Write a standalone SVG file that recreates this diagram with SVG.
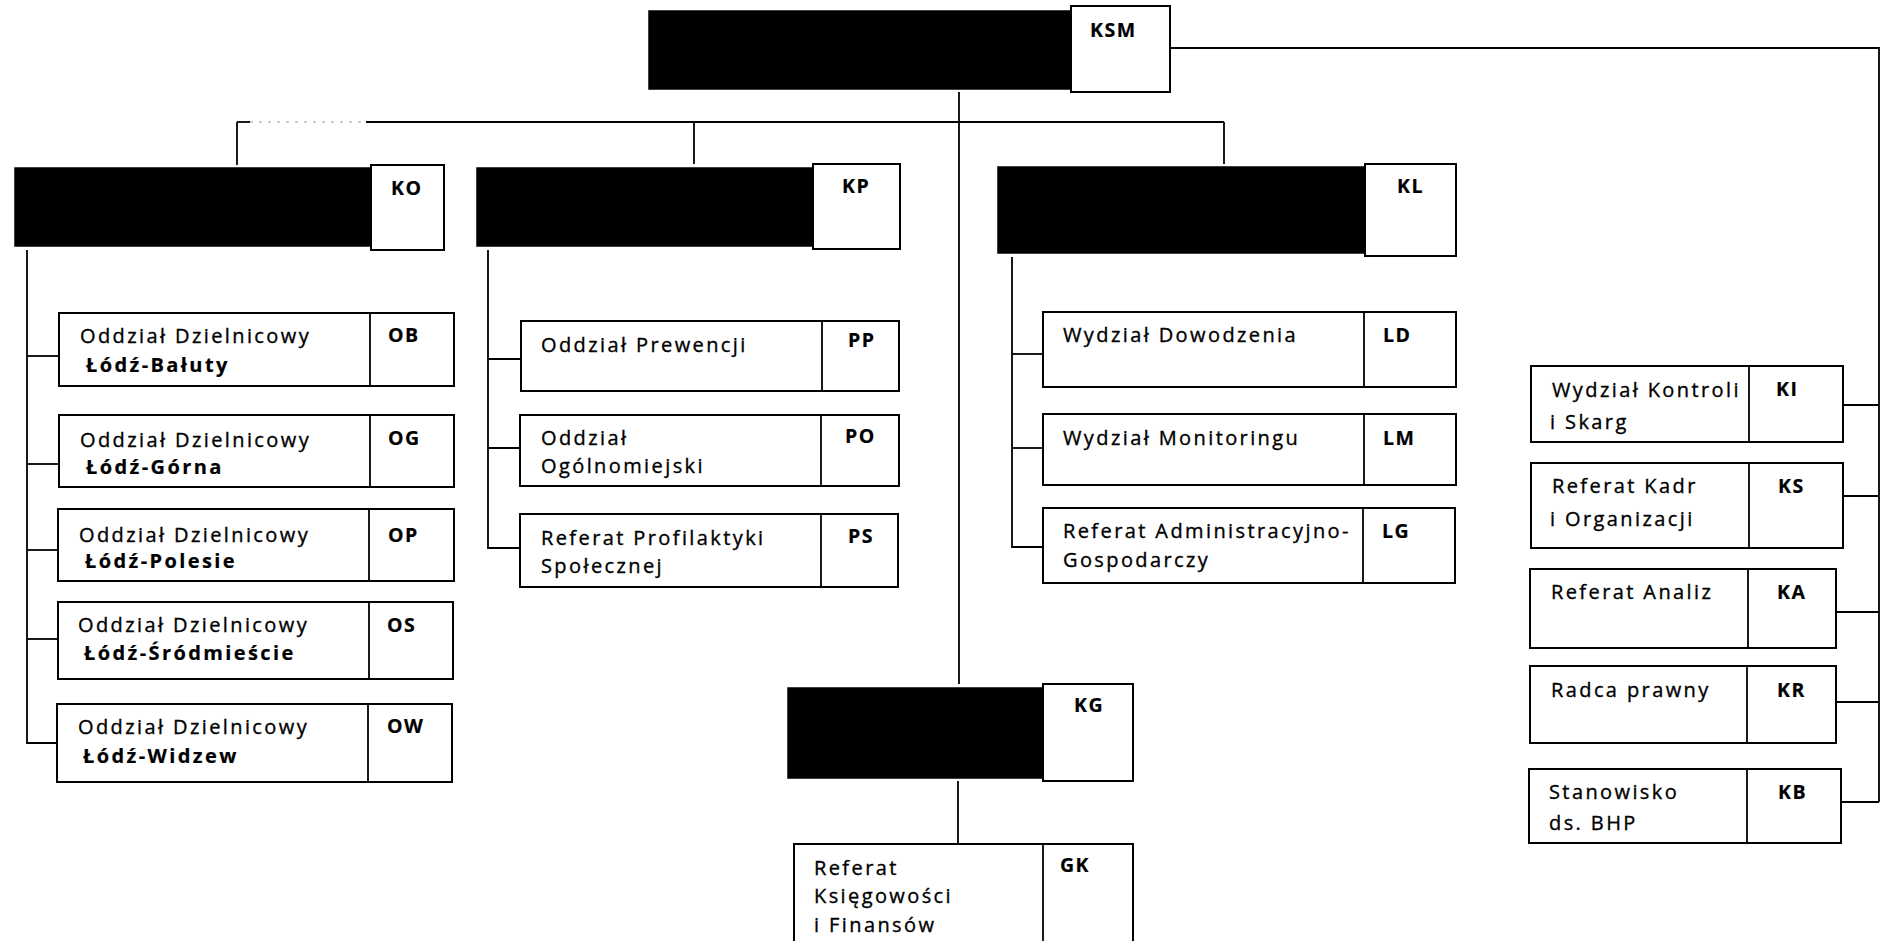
<svg xmlns="http://www.w3.org/2000/svg" width="1881" height="941" viewBox="0 0 1881 941">
<style>
.bg{fill:#fff}
.blk{fill:#000;stroke:#000;stroke-width:1.5}
.box{fill:#fff;stroke:#000;stroke-width:2}
.ln{fill:none;stroke:#000;stroke-width:1.8}
.faint{fill:none;stroke:#999;stroke-width:1.2;stroke-dasharray:3 6}
text{font-family:"Open Sans","Liberation Sans",sans-serif;font-size:20px;fill:#000;stroke:#000;stroke-width:0.35;letter-spacing:2.4px}
.b{font-weight:bold;stroke-width:0.2}
.c{font-weight:bold;font-size:19.5px;letter-spacing:1.5px;stroke-width:0.2}
</style>
<rect class="bg" x="0" y="0" width="1881" height="941"/>
<g id="connectors">
<line class="ln" x1="959" y1="92" x2="959" y2="684"/>
<line class="ln" x1="958" y1="781" x2="958" y2="844"/>
<polyline class="ln" points="1170,48 1879,48 1879,802"/>
<line class="ln" x1="237" y1="122" x2="250" y2="122"/>
<line class="faint" x1="250" y1="122" x2="366" y2="122"/>
<line class="ln" x1="366" y1="122" x2="1224" y2="122"/>
<line class="ln" x1="237" y1="122" x2="237" y2="165"/>
<line class="ln" x1="694" y1="122" x2="694" y2="164"/>
<line class="ln" x1="1224" y1="122" x2="1224" y2="164"/>
<polyline class="ln" points="27,250 27,743 59,743"/>
<line class="ln" x1="27" y1="356" x2="59" y2="356"/>
<line class="ln" x1="27" y1="464" x2="59" y2="464"/>
<line class="ln" x1="27" y1="550" x2="59" y2="550"/>
<line class="ln" x1="27" y1="639" x2="59" y2="639"/>
<polyline class="ln" points="488,250 488,548 521,548"/>
<line class="ln" x1="488" y1="359" x2="521" y2="359"/>
<line class="ln" x1="488" y1="448" x2="521" y2="448"/>
<polyline class="ln" points="1012,257 1012,547 1043,547"/>
<line class="ln" x1="1012" y1="354" x2="1043" y2="354"/>
<line class="ln" x1="1012" y1="448" x2="1043" y2="448"/>
<line class="ln" x1="1843" y1="405" x2="1879" y2="405"/>
<line class="ln" x1="1843" y1="496" x2="1879" y2="496"/>
<line class="ln" x1="1836" y1="612" x2="1879" y2="612"/>
<line class="ln" x1="1836" y1="702" x2="1879" y2="702"/>
<line class="ln" x1="1841" y1="802" x2="1879" y2="802"/>
</g>
<g id="KSM">
<rect class="blk" x="649" y="11" width="422" height="78"/>
<rect class="box" x="1071" y="6" width="99" height="86"/>
<text class="c" x="1090" y="37">KSM</text>
</g>
<g id="KO">
<rect class="blk" x="15" y="168" width="356" height="78"/>
<rect class="box" x="371" y="165" width="73" height="85"/>
<text class="c" x="391" y="195">KO</text>
</g>
<g id="KP">
<rect class="blk" x="477" y="168" width="336" height="78"/>
<rect class="box" x="813" y="164" width="87" height="85"/>
<text class="c" x="842" y="193">KP</text>
</g>
<g id="KL">
<rect class="blk" x="998" y="167" width="367" height="86"/>
<rect class="box" x="1365" y="164" width="91" height="92"/>
<text class="c" x="1397" y="193">KL</text>
</g>
<g id="KG">
<rect class="blk" x="788" y="688" width="255" height="90"/>
<rect class="box" x="1043" y="684" width="90" height="97"/>
<text class="c" x="1074" y="712">KG</text>
</g>
<g id="OB">
<rect class="box" x="59" y="313" width="395" height="73"/>
<line class="ln" x1="370" y1="313" x2="370" y2="386"/>
<text x="80" y="343">Oddział Dzielnicowy</text>
<text class="b" x="86" y="372">Łódź-Bałuty</text>
<text class="c" x="388" y="342">OB</text>
</g>
<g id="OG">
<rect class="box" x="59" y="415" width="395" height="72"/>
<line class="ln" x1="370" y1="415" x2="370" y2="487"/>
<text x="80" y="447">Oddział Dzielnicowy</text>
<text class="b" x="86" y="474">Łódź-Górna</text>
<text class="c" x="388" y="445">OG</text>
</g>
<g id="OP">
<rect class="box" x="58" y="509" width="396" height="72"/>
<line class="ln" x1="369" y1="509" x2="369" y2="581"/>
<text x="79" y="542">Oddział Dzielnicowy</text>
<text class="b" x="85" y="568">Łódź-Polesie</text>
<text class="c" x="388" y="542">OP</text>
</g>
<g id="OS">
<rect class="box" x="58" y="602" width="395" height="77"/>
<line class="ln" x1="369" y1="602" x2="369" y2="679"/>
<text x="78" y="632">Oddział Dzielnicowy</text>
<text class="b" x="84" y="660">Łódź-Śródmieście</text>
<text class="c" x="387" y="632">OS</text>
</g>
<g id="OW">
<rect class="box" x="57" y="704" width="395" height="78"/>
<line class="ln" x1="368" y1="704" x2="368" y2="782"/>
<text x="78" y="734">Oddział Dzielnicowy</text>
<text class="b" x="83" y="763">Łódź-Widzew</text>
<text class="c" x="387" y="733">OW</text>
</g>
<g id="PP">
<rect class="box" x="521" y="321" width="378" height="70"/>
<line class="ln" x1="822" y1="321" x2="822" y2="391"/>
<text x="541" y="352">Oddział Prewencji</text>
<text class="c" x="848" y="347">PP</text>
</g>
<g id="PO">
<rect class="box" x="520" y="415" width="379" height="71"/>
<line class="ln" x1="821" y1="415" x2="821" y2="486"/>
<text x="541" y="445">Oddział</text>
<text x="541" y="473">Ogólnomiejski</text>
<text class="c" x="845" y="443">PO</text>
</g>
<g id="PS">
<rect class="box" x="520" y="514" width="378" height="73"/>
<line class="ln" x1="821" y1="514" x2="821" y2="587"/>
<text x="541" y="545">Referat Profilaktyki</text>
<text x="541" y="573">Społecznej</text>
<text class="c" x="848" y="543">PS</text>
</g>
<g id="LD">
<rect class="box" x="1043" y="312" width="413" height="75"/>
<line class="ln" x1="1364" y1="312" x2="1364" y2="387"/>
<text x="1063" y="342">Wydział Dowodzenia</text>
<text class="c" x="1383" y="342">LD</text>
</g>
<g id="LM">
<rect class="box" x="1043" y="414" width="413" height="71"/>
<line class="ln" x1="1364" y1="414" x2="1364" y2="485"/>
<text x="1063" y="445">Wydział Monitoringu</text>
<text class="c" x="1383" y="445">LM</text>
</g>
<g id="LG">
<rect class="box" x="1043" y="508" width="412" height="75"/>
<line class="ln" x1="1363" y1="508" x2="1363" y2="583"/>
<text x="1063" y="538">Referat Administracyjno-</text>
<text x="1063" y="567">Gospodarczy</text>
<text class="c" x="1382" y="538">LG</text>
</g>
<g id="KI">
<rect class="box" x="1531" y="366" width="312" height="76"/>
<line class="ln" x1="1749" y1="366" x2="1749" y2="442"/>
<text x="1552" y="397">Wydział Kontroli</text>
<text x="1550" y="429">i Skarg</text>
<text class="c" x="1776" y="396">KI</text>
</g>
<g id="KS">
<rect class="box" x="1531" y="463" width="312" height="85"/>
<line class="ln" x1="1749" y1="463" x2="1749" y2="548"/>
<text x="1552" y="493">Referat Kadr</text>
<text x="1550" y="526">i Organizacji</text>
<text class="c" x="1778" y="493">KS</text>
</g>
<g id="KA">
<rect class="box" x="1530" y="569" width="306" height="79"/>
<line class="ln" x1="1748" y1="569" x2="1748" y2="648"/>
<text x="1551" y="599">Referat Analiz</text>
<text class="c" x="1777" y="599">KA</text>
</g>
<g id="KR">
<rect class="box" x="1530" y="666" width="306" height="77"/>
<line class="ln" x1="1747" y1="666" x2="1747" y2="743"/>
<text x="1551" y="697">Radca prawny</text>
<text class="c" x="1777" y="697">KR</text>
</g>
<g id="KB">
<rect class="box" x="1529" y="769" width="312" height="74"/>
<line class="ln" x1="1747" y1="769" x2="1747" y2="843"/>
<text x="1549" y="799">Stanowisko</text>
<text x="1549" y="830">ds. BHP</text>
<text class="c" x="1778" y="799">KB</text>
</g>
<g id="GK">
<rect class="box" x="794" y="844" width="339" height="110"/>
<line class="ln" x1="1043" y1="844" x2="1043" y2="941"/>
<text x="814" y="875">Referat</text>
<text x="814" y="903">Księgowości</text>
<text x="814" y="932">i Finansów</text>
<text class="c" x="1060" y="872">GK</text>
</g>
</svg>
